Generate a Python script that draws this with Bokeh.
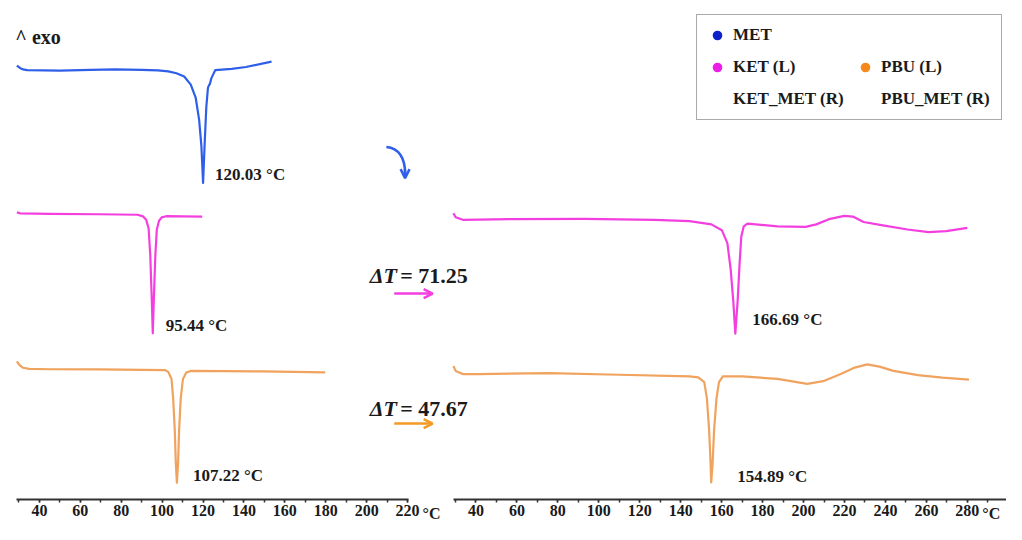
from bokeh.plotting import figure
from bokeh.models import (Range1d, LinearAxis, FixedTicker, Label, Arrow, OpenHead,
                          Legend, LegendItem)
from bokeh.embed import file_html
from bokeh.resources import INLINE

# ---------------- data ----------------
met_T = [29.0, 30.5, 32.0, 34.0, 50.0, 65.0, 77.0, 90.0, 98.0, 103.0, 107.0, 110.8, 114.0,
         116.4, 118.1, 119.2, 120.03, 120.75, 121.6, 122.4, 122.9, 123.35, 124.1, 126.0,
         134.0, 141.0, 153.5]
met_hf = [473.0, 470.5, 469.0, 468.3, 467.8, 468.5, 469.0, 468.5, 468.0, 467.0, 465.0, 461.7,
          453.3, 440.0, 417.0, 390.0, 352.0, 390.0, 430.0, 450.0, 452.5, 454.0, 460.0, 468.3,
          469.5, 471.5, 477.0]

ket_T = [29.0, 30.5, 45.0, 69.0, 88.0, 90.7, 92.2, 93.4, 94.2, 94.9, 95.44, 96.0, 96.7, 97.4,
         98.5, 99.8, 102.0, 110.0, 119.6]
ket_hf = [321.7, 320.7, 320.2, 319.7, 319.2, 317.5, 314.0, 305.0, 278.0, 235.0, 197.0, 235.0,
          278.0, 304.0, 313.0, 316.5, 317.7, 317.5, 317.3]

pbu_T = [29.0, 30.2, 32.0, 35.0, 45.0, 69.0, 101.5, 103.0, 104.6, 105.4, 106.2, 106.7, 107.22,
         107.8, 108.3, 109.1, 110.2, 111.8, 114.2, 149.0, 179.7]
pbu_hf = [168.0, 164.5, 161.5, 160.3, 160.0, 159.8, 159.0, 157.3, 150.0, 130.0, 97.0, 63.0, 43.0,
          63.0, 97.0, 130.0, 150.0, 156.7, 158.3, 157.7, 156.7]

ketmet_T = [29.0, 30.1, 33.6, 58.5, 92.8, 127.2, 144.3, 155.0, 160.1, 162.8, 164.4, 165.7, 166.69,
            167.8, 168.8, 169.6, 170.8, 172.6, 187.3, 201.0, 206.2, 213.0, 219.9, 224.1, 229.3,
            238.8, 250.8, 261.1, 269.7, 280.0]
ketmet_hf = [320.7, 316.7, 314.0, 314.7, 315.0, 314.0, 312.7, 309.3, 303.3, 290.0, 263.3, 230.0,
             196.7, 230.0, 270.0, 296.7, 307.3, 310.0, 307.3, 306.7, 309.3, 315.0, 318.0, 317.3,
             311.7, 308.3, 304.0, 301.3, 302.3, 305.7]

pbumet_T = [29.0, 30.1, 33.6, 41.3, 75.6, 110.0, 144.3, 148.6, 151.5, 152.8, 153.9, 154.6, 154.89,
            155.6, 156.3, 157.5, 158.7, 160.6, 170.1, 187.3, 201.8, 209.6, 218.2, 225.0, 231.1,
            237.1, 243.9, 255.9, 267.9, 280.8]
pbumet_hf = [163.3, 158.3, 155.0, 155.0, 156.0, 154.3, 152.7, 151.7, 146.7, 130.0, 96.7, 63.3,
             43.3, 63.3, 96.7, 130.0, 146.7, 152.7, 152.7, 150.0, 145.0, 147.7, 155.0, 161.7,
             165.0, 162.7, 158.3, 154.0, 151.3, 149.3]

peak_met, peak_ket, peak_pbu = 120.03, 95.44, 107.22
peak_ketmet, peak_pbumet = 166.69, 154.89

left_ticks = [40, 60, 80, 100, 120, 140, 160, 180, 200, 220]
left_minor = [30, 40, 50, 60, 70, 80, 90, 100, 110, 120, 130, 140, 150, 160, 170, 180, 190, 200, 210, 220]
right_ticks = [40, 60, 80, 100, 120, 140, 160, 180, 200, 220, 240, 260, 280]
right_minor = [30, 40, 50, 60, 70, 80, 90, 100, 110, 120, 130, 140, 150, 160, 170, 180, 190, 200,
               210, 220, 230, 240, 250, 260, 270, 280, 290]
legend_labels = ["MET", " ", "KET (L)", "PBU (L)", "KET_MET (R)", "PBU_MET (R)"]

# ---------------- styling ----------------
FONT = "'Liberation Serif'"
TXT = "#1a1a1a"
BLUE = "#2f5fe8"
PINK = "#f43fe0"
ORANGE = "#f0a35e"
ORANGE_ARR = "#f59a25"
DOT_BLUE = "#0c22c8"
DOT_PINK = "#ea1ee8"
DOT_ORANGE = "#f7891c"

W, H = 1006, 524
p = figure(width=W, height=H, output_backend="svg", toolbar_location=None,
           x_range=Range1d(20.99, 512.8), y_range=Range1d(0, 540),
           x_axis_location=None, y_axis_location=None, min_border=0,
           outline_line_color=None, background_fill_color="white",
           border_fill_color="white")
p.extra_x_ranges = {"right": Range1d(-192.21, 299.13), "px": Range1d(0, 1022)}
p.extra_y_ranges = {"px": Range1d(540, 0)}
p.grid.visible = False

AXIS_Y = 26
axis_style = dict(axis_line_width=2, axis_line_color="#333333",
                  major_tick_line_color="#333333", major_tick_line_width=1.5,
                  minor_tick_line_color="#333333", minor_tick_line_width=1.5,
                  major_tick_in=0, major_tick_out=3, minor_tick_in=0, minor_tick_out=3,
                  major_label_text_font=FONT, major_label_text_font_style="bold",
                  major_label_text_font_size="16px", major_label_text_color=TXT,
                  major_label_standoff=3, fixed_location=AXIS_Y)
ax_l = LinearAxis(ticker=FixedTicker(ticks=left_ticks, minor_ticks=left_minor),
                  bounds=(29, 220.5), **axis_style)
ax_r = LinearAxis(x_range_name="right",
                  ticker=FixedTicker(ticks=right_ticks, minor_ticks=right_minor),
                  bounds=(29, 300), **axis_style)
p.add_layout(ax_l, "below")
p.add_layout(ax_r, "below")

for xr, t in (("default", left_ticks[-1]), ("right", right_ticks[-1])):
    p.add_layout(Label(x=t, y=529, x_range_name=xr, y_range_name="px", x_offset=15,
                       text="°C", text_font=FONT, text_font_style="bold",
                       text_font_size="16px", text_color=TXT, text_baseline="middle"))

lw = 2.2
p.line(met_T, met_hf, line_color=BLUE, line_width=lw, line_join="round")
p.line(ket_T, ket_hf, line_color=PINK, line_width=lw, line_join="round")
p.line(pbu_T, pbu_hf, line_color=ORANGE, line_width=lw, line_join="round")
p.line(ketmet_T, ketmet_hf, x_range_name="right", line_color=PINK, line_width=lw, line_join="round")
p.line(pbumet_T, pbumet_hf, x_range_name="right", line_color=ORANGE, line_width=lw, line_join="round")

for t, xr, xoff, ypx in ((peak_met, "default", 12, 179), (peak_ket, "default", 13, 335),
                         (peak_pbu, "default", 16, 489), (peak_ketmet, "right", 17, 329),
                         (peak_pbumet, "right", 26, 491)):
    p.add_layout(Label(x=t, y=ypx, x_range_name=xr, y_range_name="px", x_offset=xoff,
                       text=f"{t:.2f} °C", text_font=FONT, text_font_style="bold",
                       text_font_size="17px", text_color=TXT, text_baseline="middle"))

p.add_layout(Label(x=15, y=38, x_range_name="px", y_range_name="px", text="^ exo",
                   text_font=FONT, text_font_style="bold", text_font_size="20px",
                   text_color=TXT, text_baseline="middle"))

for dt, ypx, arr_y, col in ((peak_ketmet - peak_ket, 283, 302, PINK),
                            (peak_pbumet - peak_pbu, 420, 436, ORANGE_ARR)):
    p.add_layout(Label(x=375, y=ypx, x_range_name="px", y_range_name="px", text="ΔT",
                       text_font=FONT, text_font_style="bold italic", text_font_size="22px",
                       text_color=TXT, text_baseline="middle"))
    p.add_layout(Label(x=406, y=ypx, x_range_name="px", y_range_name="px", text=f"= {dt:.2f}",
                       text_font=FONT, text_font_style="bold", text_font_size="22px",
                       text_color=TXT, text_baseline="middle"))
    p.add_layout(Arrow(x_start=400, y_start=arr_y, x_end=439, y_end=arr_y,
                       x_range_name="px", y_range_name="px", line_color=col, line_width=2.5,
                       end=OpenHead(size=9, line_color=col, line_width=2.5)))

p.bezier(x0=[392], y0=[151], x1=[411], y1=[178], cx0=[405], cy0=[152], cx1=[411], cy1=[163],
         x_range_name="px", y_range_name="px", line_color=BLUE, line_width=2.5)
p.add_layout(Arrow(x_start=411, y_start=174, x_end=411, y_end=183, x_range_name="px",
                   y_range_name="px", line_color=BLUE, line_width=2.5,
                   end=OpenHead(size=9, line_color=BLUE, line_width=2.5)))

# legend proxies: zero-size markers sitting on each curve's peak
proxies = [
    (legend_labels[0], DOT_BLUE, [peak_met], [min(met_hf)], "default"),
    (legend_labels[1], None, [peak_met], [min(met_hf)], "default"),
    (legend_labels[2], DOT_PINK, [peak_ket], [min(ket_hf)], "default"),
    (legend_labels[3], DOT_ORANGE, [peak_pbu], [min(pbu_hf)], "default"),
    (legend_labels[4], None, [peak_ketmet], [min(ketmet_hf)], "right"),
    (legend_labels[5], None, [peak_pbumet], [min(pbumet_hf)], "right"),
]
items = []
for lab, c, xs, ys, xr in proxies:
    if c is None:
        r = p.scatter(xs, ys, x_range_name=xr, size=0, fill_alpha=0, line_alpha=0)
    else:
        r = p.scatter(xs, ys, x_range_name=xr, size=0, fill_color=c, line_alpha=0)
    items.append(LegendItem(label=lab, renderers=[r]))
legend = Legend(items=items, orientation="horizontal", ncols=2, location=(696, 404),
                glyph_width=24, glyph_height=24, label_standoff=4, label_width=112,
                label_height=24, spacing=8, padding=8, margin=0,
                label_text_font=FONT, label_text_font_style="bold",
                label_text_font_size="17px", label_text_color=TXT,
                border_line_color="#555555", border_line_width=1.5,
                background_fill_color="white", background_fill_alpha=1.0)
p.add_layout(legend)

open("out.html", "w").write(file_html(p, INLINE))
